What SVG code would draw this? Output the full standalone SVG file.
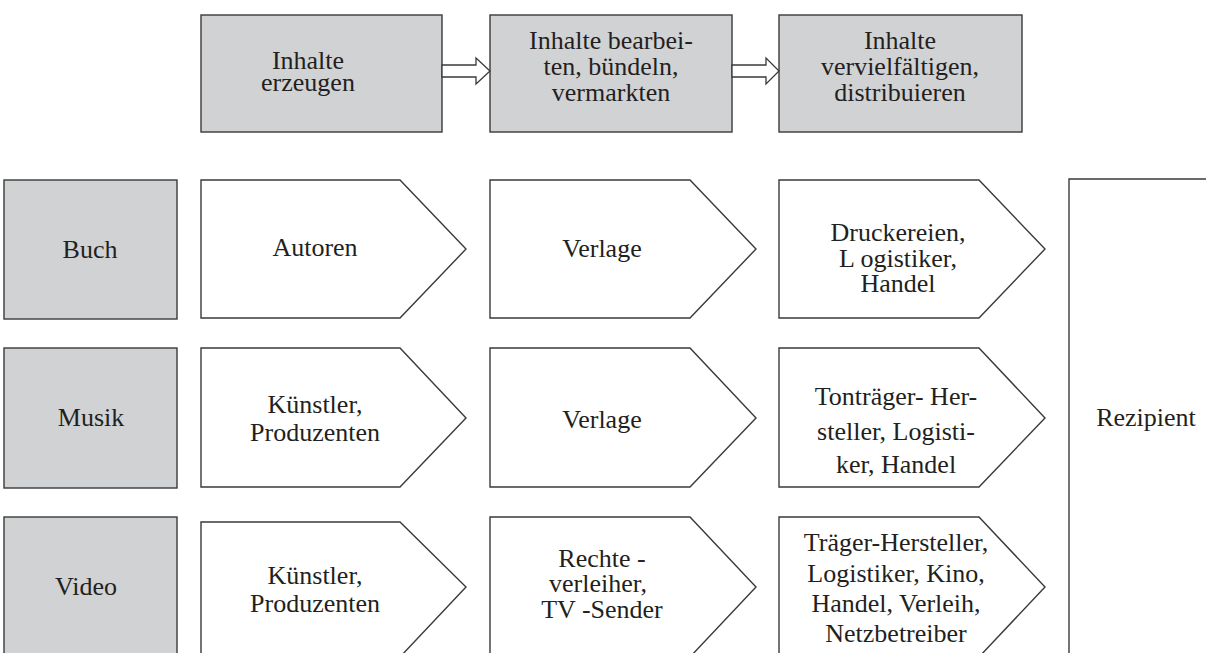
<svg xmlns="http://www.w3.org/2000/svg" width="1206" height="653" viewBox="0 0 1206 653">
<style>
.g{fill:#d1d2d4;stroke:#3a3a3a;stroke-width:1.4}
.w{fill:#fff;stroke:#3a3a3a;stroke-width:1.4}
.a{fill:#fff;stroke:#3a3a3a;stroke-width:1.3}
text{font-family:"Liberation Serif","Times New Roman",serif;font-size:26px;fill:#231f20;text-anchor:middle}
</style>
<rect width="1206" height="653" fill="#fff"/>
<g id="step1"><rect class="g" x="201" y="15" width="241" height="117"/><text x="308" y="69">Inhalte</text><text x="308" y="91">erzeugen</text></g>
<g id="step2"><rect class="g" x="490" y="15" width="242" height="117"/><text x="611" y="49">Inhalte bearbei-</text><text x="611" y="75">ten, bündeln,</text><text x="611" y="101">vermarkten</text></g>
<g id="step3"><rect class="g" x="779" y="15" width="243" height="117"/><text x="900" y="49">Inhalte</text><text x="900" y="75">vervielfältigen,</text><text x="900" y="101">distribuieren</text></g>
<g id="connectors">
<path class="a" d="M442,65 H476 V58 L490,71 L476,84 V77 H442 Z"/>
<path class="a" d="M732,65 H766 V58 L779,71 L766,84 V77 H732 Z"/>
</g>
<g id="buch"><rect class="g" x="4" y="180" width="173" height="139"/><text x="90" y="258">Buch</text></g>
<g id="musik"><rect class="g" x="4" y="348" width="173" height="140"/><text x="91" y="426">Musik</text></g>
<g id="video"><rect class="g" x="4" y="517" width="173" height="145"/><text x="86" y="595">Video</text></g>
<g id="autoren"><path class="w" d="M201,180 H400 L466,249 L400,318 H201 Z"/><text x="315" y="256">Autoren</text></g>
<g id="verlage1"><path class="w" d="M490,180 H690 L756,249 L690,318 H490 Z"/><text x="602" y="257">Verlage</text></g>
<g id="druck"><path class="w" d="M779,180 H979 L1045,249 L979,318 H779 Z"/><text x="898" y="241">Druckereien,</text><text x="898" y="267">L ogistiker,</text><text x="898" y="292">Handel</text></g>
<g id="kuenstler1"><path class="w" d="M201,348 H400 L466,418 L400,487 H201 Z"/><text x="315" y="413">Künstler,</text><text x="315" y="441">Produzenten</text></g>
<g id="verlage2"><path class="w" d="M490,348 H690 L756,418 L690,487 H490 Z"/><text x="602" y="428">Verlage</text></g>
<g id="tontraeger"><path class="w" d="M779,348 H979 L1045,418 L979,487 H779 Z"/><text x="896" y="405">Tonträger- Her-</text><text x="896" y="440">steller, Logisti-</text><text x="896" y="473">ker, Handel</text></g>
<g id="kuenstler2"><path class="w" d="M201,522 H400 L466,587 L400,657 H201 Z"/><text x="315" y="584">Künstler,</text><text x="315" y="612">Produzenten</text></g>
<g id="rechte"><path class="w" d="M490,517 H690 L756,587 L690,657 H490 Z"/><text x="602" y="567">Rechte -</text><text x="598" y="592">verleiher,</text><text x="602" y="618">TV  -Sender</text></g>
<g id="traeger"><path class="w" d="M779,517 H979 L1045,587 L979,657 H779 Z"/><text x="896" y="551">Träger-Hersteller,</text><text x="896" y="582">Logistiker, Kino,</text><text x="896" y="612">Handel, Verleih,</text><text x="896" y="642">Netzbetreiber</text></g>
<g id="rezipient"><path class="w" d="M1210,179 H1069 V660"/><text x="1146" y="426">Rezipient</text></g>
</svg>
